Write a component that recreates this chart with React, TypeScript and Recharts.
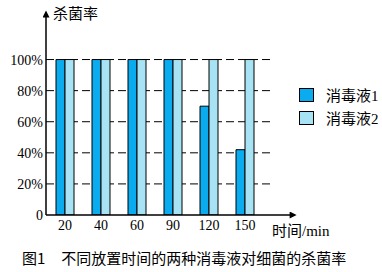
import {
  BarChart,
  Bar,
  XAxis,
  YAxis,
  CartesianGrid,
  Legend,
} from "recharts";

const times = ["20", "40", "60", "90", "120", "150"];
const solution1 = [100, 100, 100, 100, 70, 42];
const solution2 = [100, 100, 100, 100, 100, 100];
const yTicks = [0, 20, 40, 60, 80, 100];
const seriesNames = ["消毒液1", "消毒液2"];

const data = times.map((t, i) => ({
  time: t,
  s1: solution1[i],
  s2: solution2[i],
}));

const DARK = "#0BABEF";
const LIGHT = "#A8E3F5";
const SERIF = "'Liberation Serif', 'Times New Roman', serif";
const CJK = "'Noto Sans CJK SC', sans-serif";

// dashed grid lines stop short of the x axis arrow; no line at the plot edges
const gridLine = (p: any) => {
  if (Math.abs(p.y1 - p.y) < 1 || Math.abs(p.y1 - (p.y + p.height)) < 1) {
    return <g key={`g-${p.index}`} />;
  }
  return (
    <line
      key={`g-${p.index}`}
      x1={p.x1}
      y1={p.y1}
      x2={p.x2 - 21}
      y2={p.y2}
      stroke="#000"
      strokeWidth={1}
      strokeDasharray="8 4"
    />
  );
};

const LegendBox = () => (
  <div style={{ fontFamily: CJK, fontSize: 15, color: "#000" }}>
    {seriesNames.map((name, i) => (
      <div
        key={name}
        style={{ display: "flex", alignItems: "center", height: 23 }}
      >
        <span
          style={{
            display: "inline-block",
            width: 13,
            height: 12,
            background: i === 0 ? DARK : LIGHT,
            border: "1px solid #000",
            marginRight: 12,
          }}
        />
        <span>
          {name.slice(0, 3)}
          <span style={{ fontFamily: SERIF }}>{name.slice(3)}</span>
        </span>
      </div>
    ))}
  </div>
);

export default function App() {
  return (
    <div
      style={{
        position: "absolute",
        left: 0,
        top: 0,
        width: 382,
        height: 272,
        background: "#fff",
        overflow: "hidden",
      }}
    >
      <BarChart
        width={382}
        height={272}
        data={data}
        margin={{ top: 16, right: 91, bottom: 37, left: 6 }}
        barGap={0}
        barSize={9}
      >
        <defs>
          <marker
            id="arrowHead"
            viewBox="0 0 10 10"
            refX="2"
            refY="5"
            markerWidth="8"
            markerHeight="7"
            markerUnits="userSpaceOnUse"
            orient="auto-start-reverse"
          >
            <path d="M0,0 L10,5 L0,10 z" fill="#000" />
          </marker>
        </defs>
        <CartesianGrid vertical={false} horizontal={gridLine} />
        <XAxis
          dataKey="time"
          height={20}
          padding={{ left: 1, right: 28 }}
          tickLine={false}
          tickSize={0}
          tickMargin={5}
          axisLine={{ stroke: "#000", strokeWidth: 1.5, markerEnd: "url(#arrowHead)" }}
          tick={{ fill: "#000", fontSize: 14, fontFamily: SERIF }}
        />
        <YAxis
          width={40}
          domain={[0, 128]}
          ticks={yTicks}
          allowDataOverflow
          tickLine={false}
          tickSize={0}
          tickMargin={3}
          tickFormatter={(v: number) => (v === 0 ? "0" : `${v}%`)}
          axisLine={{ stroke: "#000", strokeWidth: 1.5, markerStart: "url(#arrowHead)" }}
          tick={{ fill: "#000", fontSize: 14, fontFamily: SERIF }}
        />
        <Legend
          layout="vertical"
          align="center"
          verticalAlign="middle"
          content={<LegendBox />}
          wrapperStyle={{ left: 299, top: 83, width: 90 }}
        />
        <Bar
          dataKey="s1"
          name={seriesNames[0]}
          fill={DARK}
          stroke="#000"
          strokeWidth={1}
          isAnimationActive={false}
        />
        <Bar
          dataKey="s2"
          name={seriesNames[1]}
          fill={LIGHT}
          stroke="#000"
          strokeWidth={1}
          isAnimationActive={false}
        />
      </BarChart>

      <div
        style={{
          position: "absolute",
          left: 53,
          top: 3,
          fontFamily: CJK,
          fontSize: 15,
          lineHeight: "20px",
          color: "#000",
        }}
      >
        杀菌率
      </div>
      <div
        style={{
          position: "absolute",
          left: 272,
          top: 220,
          fontSize: 15,
          lineHeight: "20px",
          color: "#000",
          whiteSpace: "nowrap",
        }}
      >
        <span style={{ fontFamily: CJK }}>时间</span>
        <span style={{ fontFamily: SERIF }}>/min</span>
      </div>
      <div
        style={{
          position: "absolute",
          left: 22,
          top: 248,
          fontFamily: CJK,
          fontSize: 15,
          lineHeight: "20px",
          color: "#000",
          whiteSpace: "nowrap",
        }}
      >
        图1<span style={{ display: "inline-block", width: 16 }} />
        不同放置时间的两种消毒液对细菌的杀菌率
      </div>
    </div>
  );
}
